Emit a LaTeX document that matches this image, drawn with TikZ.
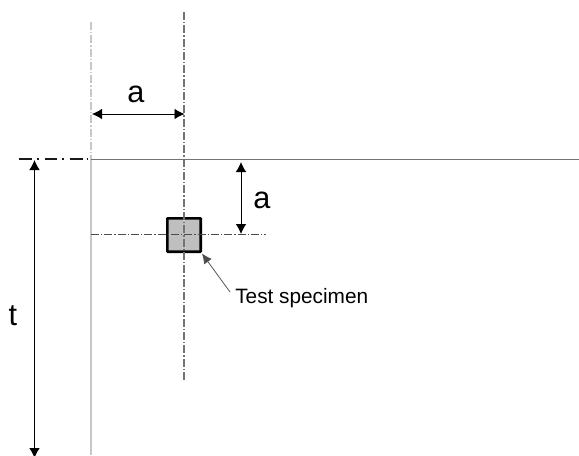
\documentclass[tikz,border=0pt]{standalone}
\usepackage{fontspec}
\setmainfont{Liberation Sans}
\usetikzlibrary{arrows.meta}
\definecolor{lightline}{gray}{0.78}
\definecolor{midline}{gray}{0.45}
\definecolor{specfill}{gray}{0.75}
\tikzset{
  every picture/.style={x=0.75pt,y=-0.75pt},
  dim/.style={line width=0.7pt,black,{Latex[length=7.5pt,width=8pt]}-{Latex[length=7.5pt,width=8pt]}},
  lead/.style={line width=0.55pt,black!70,-{Latex[length=7.5pt,width=7pt]}},
  edge solid/.style={line width=1.1pt,lightline},
  plate edge/.style={line width=0.7pt,midline},
  chain/.style={line width=0.55pt,dash pattern=on 6pt off 1.5pt on 1pt off 1.5pt},
  bigchain/.style={line width=0.95pt,black!90,dash pattern=on 9.5pt off 3.6pt on 1.5pt off 4.4pt},
  specimen/.style={draw=black,line width=2pt,fill=specfill,rounded corners=0.5pt,inner sep=0pt,minimum size=25pt},
  dimlabel/.style={font=\fontsize{23}{23}\selectfont,inner sep=0pt},
  speclabel/.style={font=\fontsize{15.6}{16}\selectfont,inner sep=0pt,anchor=west}
}
\begin{document}
\begin{tikzpicture}
\useasboundingbox (0,0) rectangle (579,455);
\coordinate (leftTop) at (91,22);
\coordinate (corner) at (91,159);
\coordinate (leftBot) at (91,455);
\coordinate (rightEnd) at (579,159);
\coordinate (chainStart) at (19.3,159);
\coordinate (chainEnd) at (88,159);
\coordinate (cTop) at (184,12);
\coordinate (cBot) at (184,382);
\coordinate (hStart) at (91,234);
\coordinate (hEnd) at (266,234);
\coordinate (aL) at (92,114);
\coordinate (aR) at (184.5,114);
\coordinate (bT) at (241,162);
\coordinate (bB) at (241,234);
\coordinate (tT) at (34.5,160);
\coordinate (tB) at (34.5,458);
\coordinate (leadStart) at (230,292);
\coordinate (leadEnd) at (202,253.5);
\draw[line width=1pt,lightline,dash pattern=on 6pt off 1.5pt on 1pt off 1.5pt] (leftTop) -- (corner);
\draw[edge solid] (corner) -- (leftBot);
\draw[plate edge] (corner) -- (rightEnd);
\draw[bigchain] (chainStart) -- (chainEnd);
\node[specimen] (spec) at (184,235) {};
\draw[chain,midline,line width=0.85pt] (cTop) -- (cBot);
\draw[chain,black!70] (hStart) -- (hEnd);
\draw[dim] (aL) -- (aR);
\draw[dim] (bT) -- (bB);
\begin{scope}
\clip (0,0) rectangle (579,455);
\draw[dim] (tT) -- (tB);
\end{scope}
\draw[lead] (leadStart) -- (leadEnd);
\node[dimlabel] (la) at (136,94) {a};
\node[dimlabel] (lb) at (262,200) {a};
\node[dimlabel] (lt) at (13,316) {t};
\node[speclabel] (ltext) at (235,298.5) {Test specimen};
\end{tikzpicture}
\end{document}
